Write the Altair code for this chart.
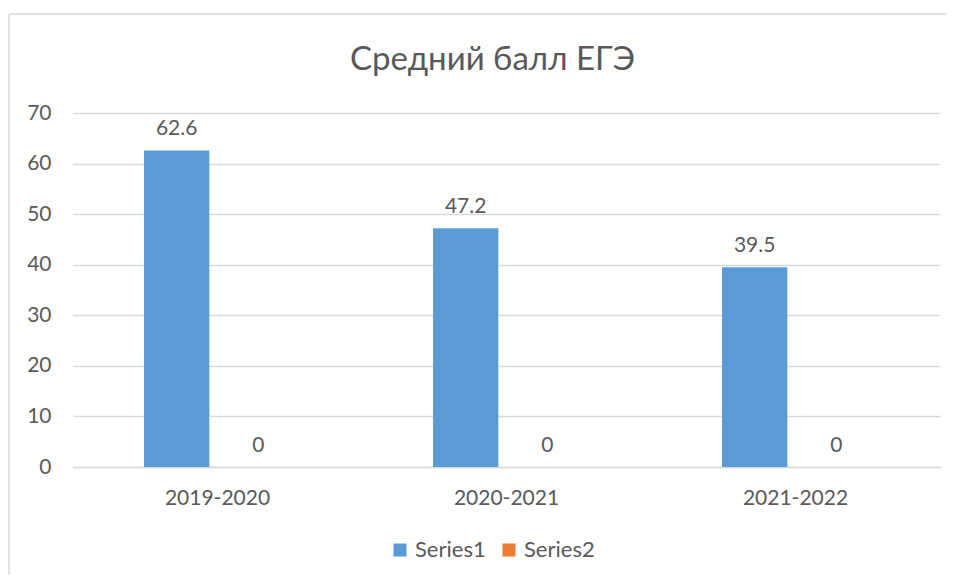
import altair as alt
import pandas as pd

categories = ["2019-2020", "2020-2021", "2021-2022"]
series_names = ["Series1", "Series2"]
series1 = [62.6, 47.2, 39.5]
series2 = [0, 0, 0]
y_ticks = [0, 10, 20, 30, 40, 50, 60, 70]
colors = ["#5B9BD5", "#ED7D31"]

rows = []
for c, a, b in zip(categories, series1, series2):
    rows.append({"cat": c, "series": "Series1", "value": a})
    rows.append({"cat": c, "series": "Series2", "value": b})
df = pd.DataFrame(rows)

FONT = "Lato"
GREY = "#595959"

x = alt.X("cat:N", sort=categories, title=None,
          scale=alt.Scale(paddingInner=0, paddingOuter=0),
          axis=alt.Axis(labelAngle=0, labelFontSize=21, labelColor=GREY, labelFont=FONT,
                        ticks=False, domainColor="#D9D9D9", domainWidth=1.5,
                        labelPadding=20, grid=False))
xo = alt.XOffset("series:N", sort=series_names,
                 scale=alt.Scale(paddingInner=0.2, paddingOuter=0.87))
y = alt.Y("value:Q", title=None,
          scale=alt.Scale(domain=[0, 70], nice=False),
          axis=alt.Axis(values=y_ticks, labelFontSize=21, labelColor=GREY, labelFont=FONT,
                        ticks=False, domain=False, gridColor="#D9D9D9", gridWidth=1.5,
                        labelPadding=22))

bars = alt.Chart(df).mark_bar().encode(
    x=x, xOffset=xo, y=y,
    color=alt.Color("series:N", sort=series_names,
                    scale=alt.Scale(domain=series_names, range=colors),
                    legend=alt.Legend(title=None, orient="none", direction="horizontal",
                                      legendX=316, legendY=426, symbolType="square",
                                      symbolSize=170, symbolStrokeWidth=0,
                                      labelFontSize=22, labelColor=GREY, labelFont=FONT,
                                      labelOffset=4, columnPadding=12)),
)

labels = alt.Chart(df).mark_text(fontSize=21, color=GREY, font=FONT, baseline="alphabetic", dy=-15).encode(
    x=alt.X("cat:N", sort=categories), xOffset=alt.XOffset("series:N", sort=series_names),
    y="value:Q", text=alt.Text("value:Q", format="~g"),
)

frame_data = alt.Data(values=[{}])
frame_left = alt.Chart(frame_data).mark_rule(color="#D9D9D9", strokeWidth=1.5).encode(
    x=alt.value(-64), y=alt.value(-99), y2=alt.value(462))
frame_top = alt.Chart(frame_data).mark_rule(color="#D9D9D9", strokeWidth=1.5).encode(
    x=alt.value(-64), x2=alt.value(873), y=alt.value(-99))

chart = alt.layer(frame_left, frame_top, bars, labels).properties(
    width=867, height=354,
    padding={"left": 0, "top": 5, "right": 0, "bottom": 0},
    title=alt.Title("Средний балл ЕГЭ", fontSize=33, color=GREY, font=FONT,
                    fontWeight="normal", frame="group", anchor="middle", dx=-14, offset=-64),
).configure(background="white").configure_view(stroke="transparent", strokeWidth=0)

chart.save("out.html", embed_options={"renderer": "svg", "actions": False})
